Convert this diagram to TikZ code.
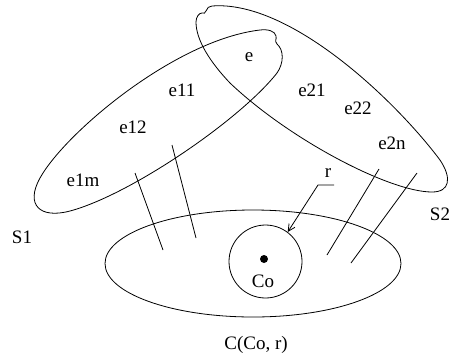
\documentclass[tikz,border=0pt]{standalone}
\usepackage{fontspec}
\setmainfont{Liberation Serif}
\usetikzlibrary{arrows.meta,positioning}

\begin{document}
\begin{tikzpicture}[x=1pt,y=-1pt,line width=.8pt,every node/.style={font=\fontsize{19}{22}\selectfont,inner sep=0pt}]
\useasboundingbox (0,0) rectangle (461,360);
% set S1
\draw (70,211) .. controls (40,219) and (25,205) .. (40,178)
  .. controls (65,133) and (175,40) .. (260,30)
  .. controls (268,29) and (275,31) .. (276,36)
  .. controls (277,40) and (274,40) .. (277,44)
  .. controls (284,50) and (284,63) .. (277,73)
  .. controls (240,120) and (130,195) .. cycle;
% set S2
\draw (212,6) .. controls (290,0) and (395,100) .. (440,160)
  .. controls (452,178) and (450,192) .. (432,192)
  .. controls (390,192) and (290,140) .. (230,83)
  .. controls (210,62) and (196,40) .. (196,22)
  .. controls (196,17) and (199,13) .. (202,13)
  .. controls (204,13) and (205,14) .. (206,11)
  .. controls (207,8) and (209,6) .. cycle;
% the region C
\coordinate (cc) at (253,263.5);
\draw (cc) ellipse [x radius=148,y radius=53.5];
\node[draw,circle,minimum size=73pt,line width=.8pt] (co) at (265.5,261.5) {};
\node[fill,circle,minimum size=8pt] (codot) at (264,259) {};
% hatching
\coordinate (h1a) at (135,173); \coordinate (h1b) at (163,250);
\coordinate (h2a) at (172,145); \coordinate (h2b) at (196,238);
\coordinate (h3a) at (379,169); \coordinate (h3b) at (327,255);
\coordinate (h4a) at (417,173); \coordinate (h4b) at (351,263);
\draw (h1a)--(h1b);
\draw (h2a)--(h2b);
\draw (h3a)--(h3b);
\draw (h4a)--(h4b);
% radius arrow
\node (rlab) at (328,173) {r};
\coordinate (rst) at (334,185);
\coordinate (rkn) at (318,185);
\draw[-{Straight Barb[length=7pt,width=7pt]}] (rst)--(rkn)--(co.53);
% labels
\node (e) at (249,57) {e};
\node (e11) at (182,90) {e11};
\node (e12) at (133,127) {e12};
\node (e1m) at (83,180) {e1m};
\node (e21) at (312,90) {e21};
\node (e22) at (358,108) {e22};
\node (e2n) at (392,143) {e2n};
\node (s1) at (22,237) {S1};
\node (s2) at (440,214) {S2};
\node (colab) at (263,281) {Co};
\node (clab) at (256,345) {C(Co, r)};
\end{tikzpicture}
\end{document}
